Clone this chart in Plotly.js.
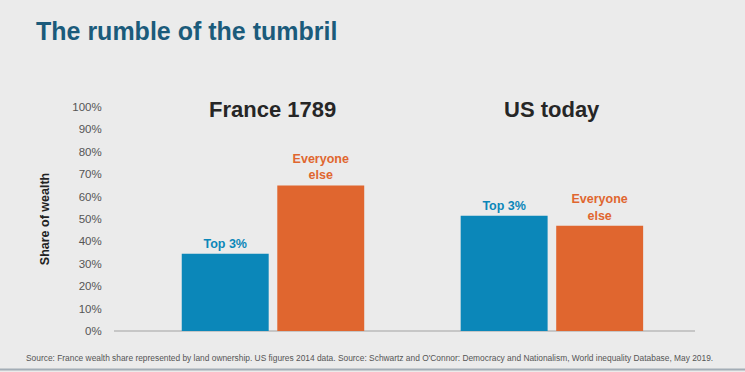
<!DOCTYPE html>
<html>
<head>
<meta charset="utf-8">
<script src="https://cdn.plot.ly/plotly-3.0.1.min.js"></script>
<style>
  html, body { margin: 0; padding: 0; background: #ebebeb; }
  #chart { width: 745px; height: 372px; }
</style>
</head>
<body>
<div id="chart"></div>
<script>
// ---- data ----
var groups = ["France 1789", "US today"];
var top3Share = [34.5, 51.5];
var everyoneElseShare = [65, 47];
var seriesLabels = ["Top 3%", "Everyone<br>else"];
var yTickValues = [0, 10, 20, 30, 40, 50, 60, 70, 80, 90, 100];
var yTickLabels = ["0%", "10%", "20%", "30%", "40%", "50%", "60%", "70%", "80%", "90%", "100%"];
var chartTitle = "The rumble of the tumbril";
var yTitle = "Share of wealth";
var sourceNote = "Source: France wealth share represented by land ownership. US figures 2014 data. Source: Schwartz and O'Connor: Democracy and Nationalism, World inequality Database, May 2019.";

var blue = "#0b87b9";
var orange = "#e0662f";
var font = "Liberation Sans, Arial, sans-serif";

var traces = [
  {
    type: "bar", name: "Top 3%", x: groups, y: top3Share,
    marker: { color: blue },
    text: groups.map(function () { return seriesLabels[0]; }),
    textposition: "outside", cliponaxis: false,
    outsidetextfont: { family: font, size: 12.5, color: blue, weight: "bold" },
    hoverinfo: "none"
  },
  {
    type: "bar", name: "Everyone else", x: groups, y: everyoneElseShare,
    marker: { color: orange },
    text: groups.map(function () { return seriesLabels[1]; }),
    textposition: "outside", cliponaxis: false,
    outsidetextfont: { family: font, size: 12.5, color: orange, weight: "bold" },
    hoverinfo: "none"
  }
];

var annotations = groups.map(function (g) {
  return {
    x: g, y: 98.7, xref: "x", yref: "y", text: g, showarrow: false,
    yanchor: "middle", xanchor: "center",
    font: { family: font, size: 22, color: "#262626", weight: "bold" }
  };
});
annotations.push({
  xref: "paper", yref: "paper", x: -0.155, y: -0.1225, xanchor: "left", yanchor: "middle",
  text: sourceNote, showarrow: false,
  font: { family: font, size: 8.4, color: "#555555" }
});

var layout = {
  width: 745, height: 372,
  paper_bgcolor: "#ebebeb", plot_bgcolor: "#ebebeb",
  margin: { l: 114, r: 50, t: 107, b: 40.5 },
  showlegend: false,
  barmode: "group", bargap: 0.315, bargroupgap: 0.09,
  title: {
    text: chartTitle, x: 36 / 745, xanchor: "left", xref: "container",
    y: 1 - 31 / 372, yanchor: "middle", yref: "container",
    font: { family: font, size: 25, color: "#1b5b7b", weight: "bold" }
  },
  xaxis: {
    type: "category", range: [-0.570, 1.513], showticklabels: false,
    showline: false, showgrid: false, zeroline: false, ticks: ""
  },
  yaxis: {
    range: [0, 100], tickvals: yTickValues, ticktext: yTickLabels,
    showgrid: false, showline: false,
    zeroline: true, zerolinecolor: "#c6c6c6", zerolinewidth: 1.5,
    ticks: "outside", ticklen: 9, tickcolor: "rgba(0,0,0,0)",
    tickfont: { family: font, size: 11.5, color: "#555555" },
    title: { text: yTitle, standoff: 19, font: { family: font, size: 12.5, color: "#222222", weight: "bold" } }
  },
  annotations: annotations,
  shapes: [{
    type: "line", xref: "paper", yref: "paper",
    x0: -0.2, x1: 1.1, y0: -0.172, y1: -0.172,
    line: { color: "#a3adb6", width: 2 }
  }]
};

Plotly.newPlot("chart", traces, layout, { staticPlot: true, displayModeBar: false });
</script>
</body>
</html>
